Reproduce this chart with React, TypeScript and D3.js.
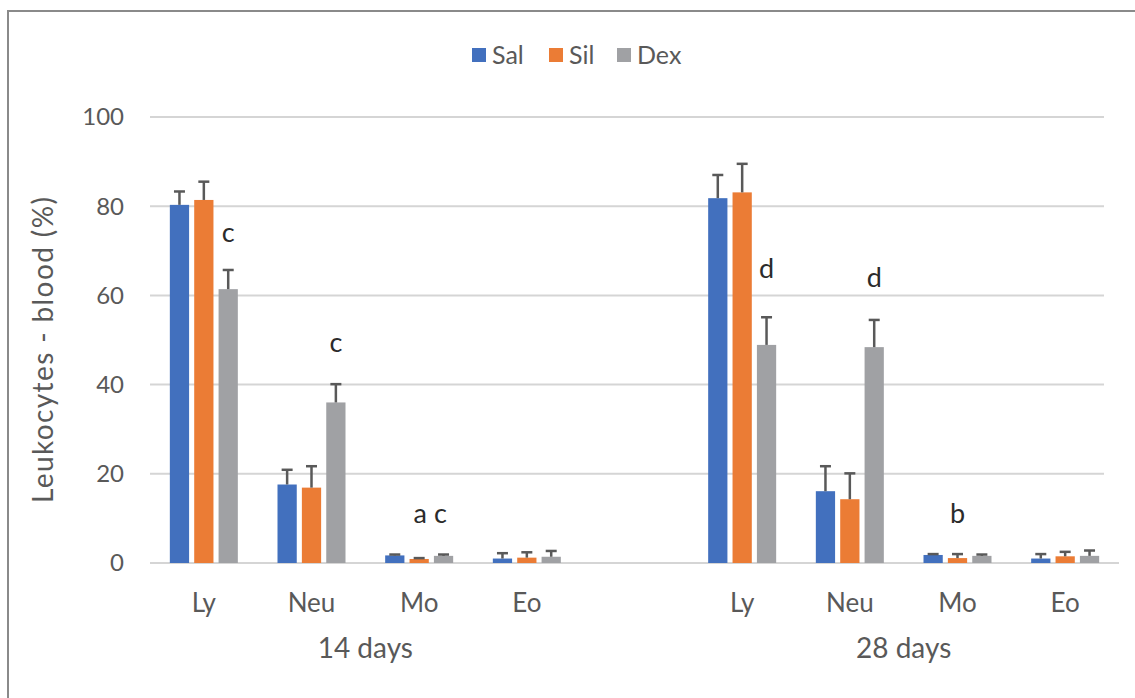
import React from "react";
import * as d3 from "d3";

// chart data
const categories = ["Ly", "Neu", "Mo", "Eo"];
const periods = ["14 days", "28 days"];
const series = ["Sal", "Sil", "Dex"];
const colors = ["#4270BE", "#EB7C35", "#A0A1A4"];

const sal14 = [80.3, 17.6, 1.7, 1.0];
const sil14 = [81.4, 16.9, 0.9, 1.2];
const dex14 = [61.4, 36.0, 1.6, 1.4];
const sal28 = [81.8, 16.1, 1.8, 1.0];
const sil28 = [83.1, 14.3, 1.1, 1.5];
const dex28 = [48.9, 48.4, 1.6, 1.6];

const salErr14 = [3.0, 3.3, 0.2, 1.2];
const silErr14 = [4.1, 4.8, 0.2, 1.2];
const dexErr14 = [4.3, 4.1, 0.3, 1.3];
const salErr28 = [5.2, 5.6, 0.2, 1.0];
const silErr28 = [6.4, 5.8, 0.9, 1.0];
const dexErr28 = [6.2, 6.1, 0.3, 1.2];

const yTicks = [0, 20, 40, 60, 80, 100];

// significance letters: period, category, series anchor (null = group centre), y value
const notes = [
  { period: "14 days", cat: "Ly", series: "Dex", y: 74, label: "c" },
  { period: "14 days", cat: "Neu", series: "Dex", y: 49.5, label: "c" },
  { period: "14 days", cat: "Mo", series: null, y: 11, label: "a c" },
  { period: "28 days", cat: "Ly", series: "Dex", y: 66, label: "d" },
  { period: "28 days", cat: "Neu", series: "Dex", y: 64, label: "d" },
  { period: "28 days", cat: "Mo", series: null, y: 11, label: "b" },
];

const values = {
  "14 days": [sal14, sil14, dex14],
  "28 days": [sal28, sil28, dex28],
};
const errors = {
  "14 days": [salErr14, silErr14, dexErr14],
  "28 days": [salErr28, silErr28, dexErr28],
};

const W = 1135;
const H = 698;
const font = "Lato, 'Open Sans', sans-serif";
const textColor = "#595959";

const slotKey = (p: string, c: string) => `${p}|${c}`;
const slots = [
  ...categories.map((c) => slotKey(periods[0], c)),
  "gap",
  ...categories.map((c) => slotKey(periods[1], c)),
];

export default function App() {
  const x = d3.scaleBand<string>().domain(slots).range([150, 1119]);
  const xs = d3
    .scaleBand<string>()
    .domain(series)
    .range([-34, 34])
    .paddingInner(0.21);
  const y = d3.scaleLinear().domain([0, 100]).range([563, 117]);

  const center = (p: string, c: string) =>
    (x(slotKey(p, c)) as number) + x.bandwidth() / 2;

  const bars: any[] = [];
  periods.forEach((p) => {
    categories.forEach((c, ci) => {
      series.forEach((s, si) => {
        bars.push({
          key: `${p}-${c}-${s}`,
          x: center(p, c) + (xs(s) as number),
          v: values[p][si][ci],
          e: errors[p][si][ci],
          color: colors[si],
        });
      });
    });
  });

  const bw = xs.bandwidth();

  return (
    <svg
      width={W}
      height={H}
      style={{ position: "absolute", left: 0, top: 0, background: "#fff" }}
    >
      <rect x={8} y={11} width={W} height={H} fill="none" stroke="#8a8a8a" strokeWidth={2} />

      {/* legend */}
      <g fontFamily={font} fontSize={25} fill={textColor}>
        {series.map((s, i) => {
          const lx = [472, 549, 617][i];
          return (
            <g key={s}>
              <rect x={lx} y={48} width={14} height={14} fill={colors[i]} />
              <text x={lx + 20} y={55} dy="0.35em">{s}</text>
            </g>
          );
        })}
      </g>

      {/* gridlines */}
      {yTicks.map((t) => (
        <line
          key={t}
          x1={150}
          x2={t === 0 ? 1119 : 1104}
          y1={y(t)}
          y2={y(t)}
          stroke="#d5d5d5"
          strokeWidth={2}
        />
      ))}
      <g fontFamily={font} fontSize={24} fill={textColor} textAnchor="end">
        {yTicks.map((t) => (
          <text key={t} x={124} y={y(t)} dy="0.35em">
            {t}
          </text>
        ))}
      </g>
      <text
        transform={`translate(43,350) rotate(-90)`}
        textAnchor="middle"
        dy="0.35em"
        fontFamily={font}
        fontSize={28}
        fill={textColor}
        textLength={306}
      >
        Leukocytes - blood (%)
      </text>

      {/* bars */}
      {bars.map((b) => (
        <rect
          key={b.key}
          x={b.x}
          y={y(b.v)}
          width={bw}
          height={y(0) - y(b.v)}
          fill={b.color}
        />
      ))}
      {/* error bars */}
      <g stroke="#595959" strokeWidth={2.5}>
        {bars.map((b) => {
          const cx = b.x + bw / 2;
          return (
            <g key={b.key}>
              <line x1={cx} x2={cx} y1={y(b.v)} y2={y(b.v + b.e)} />
              <line x1={cx - 5.5} x2={cx + 5.5} y1={y(b.v + b.e)} y2={y(b.v + b.e)} />
            </g>
          );
        })}
      </g>

      {/* letters */}
      <g fontFamily={font} fontSize={27} fill="#2b2b2b" textAnchor="middle">
        {notes.map((n, i) => {
          const cx = n.series
            ? center(n.period, n.cat) + (xs(n.series) as number) + bw / 2
            : center(n.period, n.cat) + (n.label.length > 1 ? 11 : 0);
          return (
            <text key={i} x={cx} y={y(n.y)} dy="0.35em">
              {n.label}
            </text>
          );
        })}
      </g>

      {/* category axis */}
      <g fontFamily={font} fontSize={26} fill={textColor} textAnchor="middle">
        {periods.map((p) =>
          categories.map((c) => (
            <text key={p + c} x={center(p, c)} y={603} dy="0.35em">
              {c}
            </text>
          ))
        )}
      </g>
      <g fontFamily={font} fontSize={28} fill={textColor} textAnchor="middle">
        {periods.map((p) => (
          <text
            key={p}
            x={(center(p, categories[0]) + center(p, categories[categories.length - 1])) / 2}
            y={648}
            dy="0.35em"
          >
            {p}
          </text>
        ))}
      </g>
    </svg>
  );
}
